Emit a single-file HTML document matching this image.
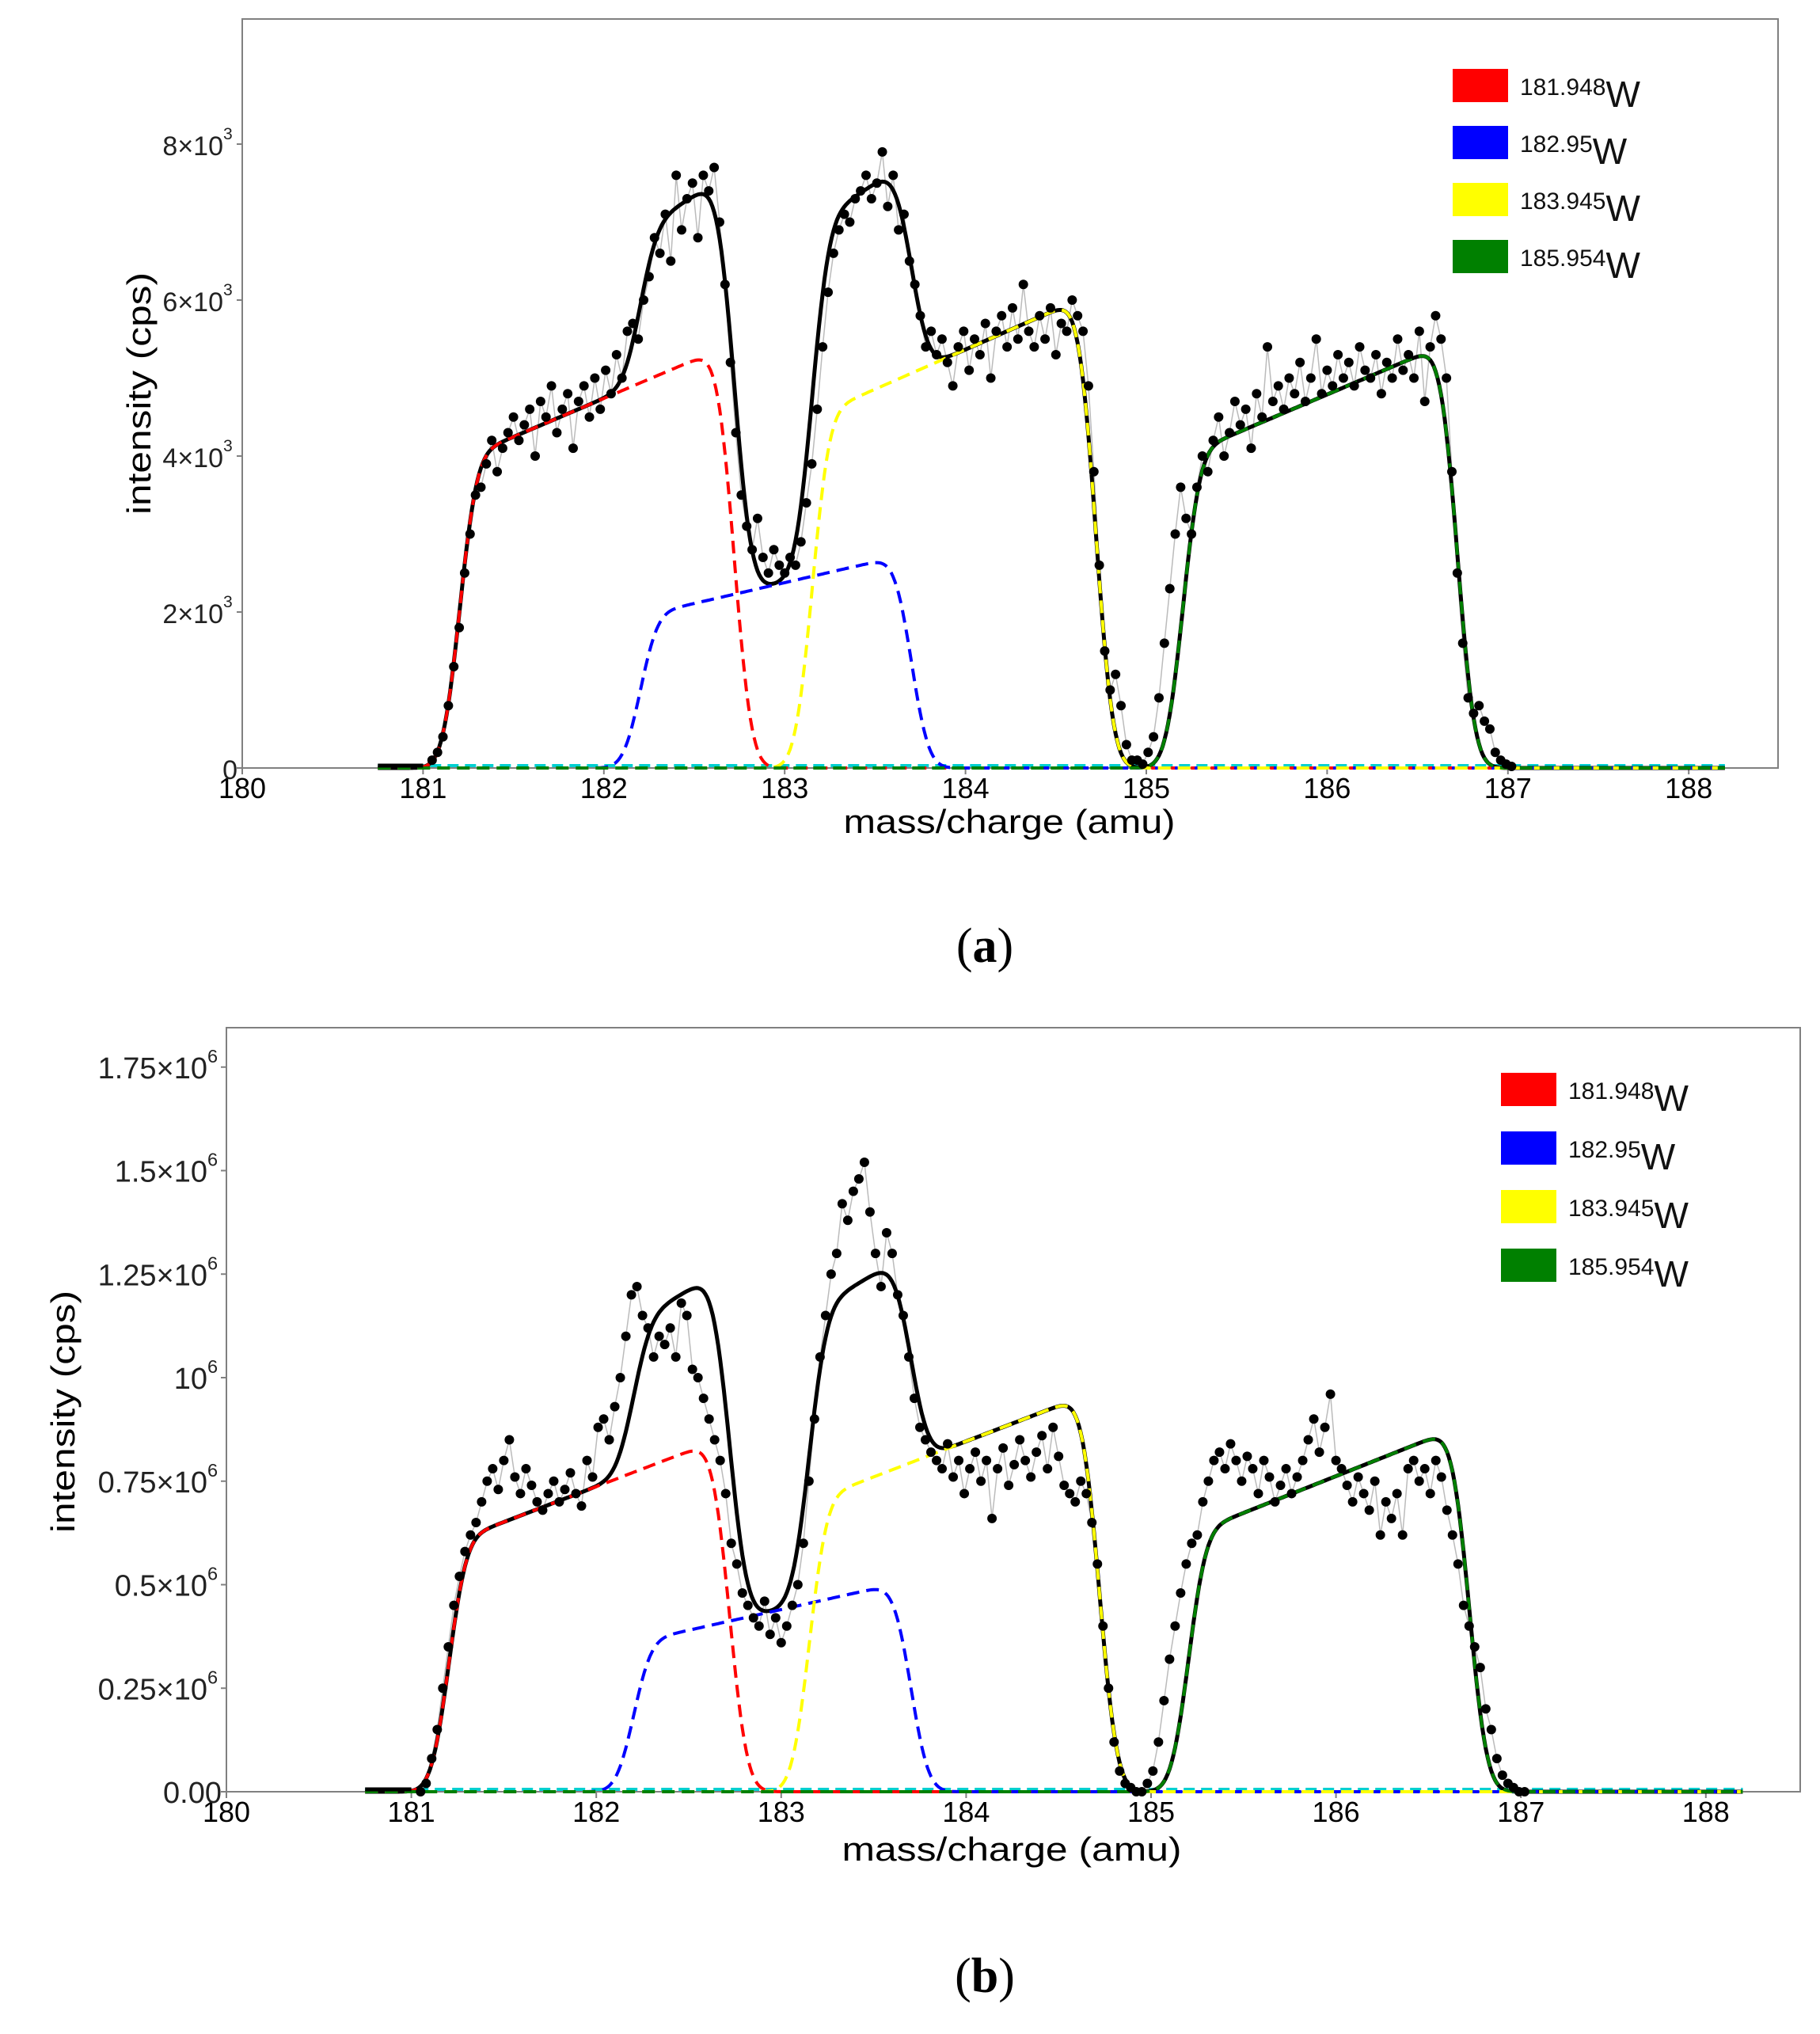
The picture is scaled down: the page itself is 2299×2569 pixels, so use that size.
<!DOCTYPE html>
<html><head><meta charset="utf-8"><style>
html,body{margin:0;padding:0;background:#fff}
svg{display:block}
</style></head><body>
<svg id="fig" width="2299" height="2569" viewBox="0 0 2299 2569" xmlns="http://www.w3.org/2000/svg" font-family="'Liberation Sans', sans-serif"></svg>
<script>
// ---- shared data ----
const massStart = 181.05;
const massStep = 0.03;
// Panel (a) measured intensities (units of 1e3 cps)
const dataA = [
0.1,0.2,0.4,0.8,1.3,1.8,2.5,3.0,3.5,3.6,
3.9,4.2,3.8,4.1,4.3,4.5,4.2,4.4,4.6,4.0,
4.7,4.5,4.9,4.3,4.6,4.8,4.1,4.7,4.9,4.5,
5.0,4.6,5.1,4.8,5.3,5.0,5.6,5.7,5.5,6.0,
6.3,6.8,6.6,7.1,6.5,7.6,6.9,7.3,7.5,6.8,
7.6,7.4,7.7,7.0,6.2,5.2,4.3,3.5,3.1,2.8,
3.2,2.7,2.5,2.8,2.6,2.5,2.7,2.6,2.9,3.4,
3.9,4.6,5.4,6.1,6.6,6.9,7.1,7.0,7.3,7.4,
7.6,7.3,7.5,7.9,7.2,7.6,6.9,7.1,6.5,6.2,
5.8,5.4,5.6,5.3,5.5,5.2,4.9,5.4,5.6,5.1,
5.5,5.3,5.7,5.0,5.6,5.8,5.4,5.9,5.5,6.2,
5.6,5.4,5.8,5.5,5.9,5.3,5.7,5.6,6.0,5.8,
5.6,4.9,3.8,2.6,1.5,1.0,1.2,0.8,0.3,0.1,
0.1,0.05,0.2,0.4,0.9,1.6,2.3,3.0,3.6,3.2,
3.0,3.6,4.0,3.8,4.2,4.5,4.0,4.3,4.7,4.4,
4.6,4.1,4.8,4.5,5.4,4.7,4.9,4.6,5.0,4.8,
5.2,4.7,5.0,5.5,4.8,5.1,4.9,5.3,5.0,5.2,
4.9,5.4,5.1,5.0,5.3,4.8,5.2,5.0,5.5,5.1,
5.3,5.0,5.6,4.7,5.4,5.8,5.5,5.0,3.8,2.5,
1.6,0.9,0.7,0.8,0.6,0.5,0.2,0.1,0.05,0.02];
// Panel (b) measured intensities (units of 1e6 cps)
const dataB = [
0.0,0.02,0.08,0.15,0.25,0.35,0.45,0.52,0.58,0.62,
0.65,0.70,0.75,0.78,0.73,0.80,0.85,0.76,0.72,0.78,
0.74,0.70,0.68,0.72,0.75,0.70,0.73,0.77,0.72,0.69,
0.80,0.76,0.88,0.90,0.85,0.93,1.00,1.10,1.20,1.22,
1.15,1.12,1.05,1.10,1.08,1.12,1.05,1.18,1.15,1.02,
1.00,0.95,0.90,0.85,0.80,0.72,0.60,0.55,0.48,0.45,
0.42,0.40,0.46,0.38,0.42,0.36,0.40,0.45,0.50,0.60,
0.75,0.90,1.05,1.15,1.25,1.30,1.42,1.38,1.45,1.48,
1.52,1.40,1.30,1.22,1.35,1.30,1.20,1.15,1.05,0.95,
0.88,0.85,0.82,0.80,0.78,0.84,0.76,0.80,0.72,0.78,
0.82,0.75,0.80,0.66,0.78,0.83,0.74,0.79,0.85,0.80,
0.76,0.82,0.86,0.78,0.88,0.81,0.74,0.72,0.70,0.75,
0.72,0.65,0.55,0.40,0.25,0.12,0.05,0.02,0.01,0.0,
0.0,0.02,0.05,0.12,0.22,0.32,0.40,0.48,0.55,0.60,
0.62,0.70,0.75,0.80,0.82,0.78,0.84,0.80,0.75,0.81,
0.78,0.72,0.80,0.76,0.70,0.74,0.78,0.72,0.76,0.80,
0.85,0.90,0.82,0.88,0.96,0.80,0.78,0.74,0.70,0.76,
0.72,0.68,0.75,0.62,0.70,0.66,0.72,0.62,0.78,0.80,
0.75,0.78,0.72,0.80,0.76,0.68,0.62,0.55,0.45,0.40,
0.35,0.30,0.20,0.15,0.08,0.04,0.02,0.01,0.0,0.0];
// Fit components
const compNames = ["181.948","182.95","183.945","185.954"];
const compColors = ["#ff0000","#0000ff","#ffff00","#008000"];
const compStart = [181.2,182.2,183.15,185.2];
const compEnd = [182.72,183.7,184.72,186.72];
const compLowA = [3.95,1.95,4.5,4.0];
const compHighA = [5.45,2.75,6.1,5.5];
const compLowB = [0.6,0.36,0.7,0.62];
const compHighB = [0.86,0.51,0.97,0.89];
const xTicks = [180,181,182,183,184,185,186,187,188];
const yTicksA = [0,2,4,6,8];
const yTickLabelsA = [["0",""],["2×10","3"],["4×10","3"],["6×10","3"],["8×10","3"]];
const yTicksB = [0,0.25,0.5,0.75,1,1.25,1.5,1.75];
const yTickLabelsB = [["0.00",""],["0.25×10","6"],["0.5×10","6"],["0.75×10","6"],["10","6"],["1.25×10","6"],["1.5×10","6"],["1.75×10","6"]];

const NS="http://www.w3.org/2000/svg";
const svg=document.getElementById('fig');
function mk(tag,attrs,parent){const e=document.createElementNS(NS,tag);for(const k in attrs)e.setAttribute(k,attrs[k]);(parent||svg).appendChild(e);return e;}
function erf(x){const s=x<0?-1:1;x=Math.abs(x);const t=1/(1+0.3275911*x);const y=1-(((((1.061405429*t-1.453152027)*t)+1.421413741)*t-0.284496736)*t+0.254829592)*t*Math.exp(-x*x);return s*y;}
function Phi(z){return 0.5*(1+erf(z/Math.SQRT2));}
function comp(x,s,e,lo,hi){const w=0.075;const lin=lo+(hi-lo)*(x-s)/(e-s);return lin*Phi((x-s)/w)*(1-Phi((x-e)/w));}

function drawPanel(P){
  const g=mk('g',{});
  
  
  const X=v=>P.left+(v-180)*P.pxPerAmu;
  const Y=v=>P.bottom-v*P.pxPerUnit;
  const fr=mk('rect',{x:P.left,y:P.top,width:P.right-P.left,height:P.bottom-P.top,fill:'none',stroke:'#808080','stroke-width':2},g);
  
  
  xTicks.forEach(t=>{
    const tk=mk('line',{x1:X(t),x2:X(t),y1:P.bottom,y2:P.bottom+8,stroke:'#808080','stroke-width':2},g);
    
    
    const tl=mk('text',{x:X(t),y:P.bottom+38,'font-size':36,'text-anchor':'middle',fill:'#000'},g);
    tl.textContent=String(t);
    
    
  });
  P.yTicks.forEach((t,i)=>{
    const tk=mk('line',{x1:P.left-7,x2:P.left,y1:Y(t),y2:Y(t),stroke:'#808080','stroke-width':2},g);
    
    
    const lab=P.yLabels[i];
    const tl=mk('text',{x:P.left-(lab[1]?24:6),y:Y(t)+14,'font-size':P.yFont,'text-anchor':'end',fill:'#222'},g);
    tl.textContent=lab[0];
    
    
    if(lab[1]){
      const sp=mk('text',{x:P.left-24,y:Y(t)-6,'font-size':P.yFont*0.62,'text-anchor':'start',fill:'#222'},g);
      sp.textContent=lab[1];
      
      
    }
  });
  const xt=mk('text',{x:P.xTitleX,y:P.xTitleY,'font-size':42,'text-anchor':'middle',textLength:P.xTitleLen,lengthAdjust:'spacingAndGlyphs',fill:'#000'},g);
  xt.textContent='mass/charge (amu)';
  
  
  const yt=mk('text',{x:0,y:0,'font-size':42,'text-anchor':'middle',textLength:306,lengthAdjust:'spacingAndGlyphs',fill:'#000',transform:`translate(${P.yTitleX},${P.yTitleY}) rotate(-90)`},g);
  yt.textContent='intensity (cps)';
  
  
  let d='';
  P.data.forEach((v,i)=>{const m=massStart+i*massStep;d+=(i?'L':'M')+X(m).toFixed(1)+','+Y(v).toFixed(1);});
  const dl=mk('path',{d:d,fill:'none',stroke:'#bbbbbb','stroke-width':1.5},g);
  
  
  const xs=[];for(let m=180.75;m<=188.2001;m+=0.01)xs.push(m);
  const baseLine=mk('line',{x1:X(180.75),x2:X(188.2),y1:Y(0)-3,y2:Y(0)-3,stroke:'#00d0d0','stroke-width':4,'stroke-dasharray':'14 8'},g);
  
  
  let ft='';
  xs.forEach((m,i)=>{let s=0;for(let k=0;k<4;k++)s+=comp(m,compStart[k],compEnd[k],P.low[k],P.high[k]);ft+=(i?'L':'M')+X(m).toFixed(1)+','+Y(s).toFixed(1);});
  const fit=mk('path',{d:ft,fill:'none',stroke:'#000','stroke-width':5,'stroke-linejoin':'round'},g);
  
  
  for(let k=0;k<4;k++){
    let cd='';
    xs.forEach((m,i)=>{const v=comp(m,compStart[k],compEnd[k],P.low[k],P.high[k]);cd+=(i?'L':'M')+X(m).toFixed(1)+','+Y(v).toFixed(1);});
    const c=mk('path',{d:cd,fill:'none',stroke:compColors[k],'stroke-width':4,'stroke-dasharray':'16 9'},g);
    
    
  }
  P.data.forEach((v,i)=>{
    const m=massStart+i*massStep;
    const c=mk('circle',{cx:X(m),cy:Y(v),r:6,fill:'#000'},g);
    
    
  });
  const tail=mk('line',{x1:X(180.75),x2:X(181.0),y1:Y(0)-3,y2:Y(0)-3,stroke:'#000','stroke-width':5},g);
  
  
  for(let k=0;k<4;k++){
    const y0=P.legTop+k*P.legGap;
    const lg=mk('g',{},g);
    
    
    mk('rect',{x:P.legX,y:y0,width:70,height:42,fill:compColors[k]},lg);
    const t1=mk('text',{x:P.legX+85,y:y0+33,'font-size':30,fill:'#111'},lg);
    t1.textContent=compNames[k];
    const t2=mk('tspan',{'font-size':46,dy:15},t1);
    t2.textContent='W';
  }
  const pl=mk('text',{x:P.capX,y:P.capY,'font-size':62,'text-anchor':'middle','font-family':"'Liberation Serif', serif",fill:'#000'},g);
  pl.innerHTML='(<tspan font-weight="bold">'+P.cap+'</tspan>)';
  
  
}

drawPanel({name:'panel-a',left:306,right:2246,top:24,bottom:970,pxPerAmu:228.4,pxPerUnit:98.5,
  data:dataA,low:compLowA,high:compHighA,yTicks:yTicksA,yLabels:yTickLabelsA,yFont:34,
  xTitleX:1275,xTitleY:1052,xTitleLen:419,yTitleX:190,yTitleY:497,
  legX:1835,legTop:87,legGap:72,cap:'a',capX:1244,capY:1215});
drawPanel({name:'panel-b',left:286,right:2274,top:1298,bottom:2263,pxPerAmu:233.6,pxPerUnit:523,
  data:dataB,low:compLowB,high:compHighB,yTicks:yTicksB,yLabels:yTickLabelsB,yFont:38,
  xTitleX:1278,xTitleY:2350,xTitleLen:429,yTitleX:94,yTitleY:1783,
  legX:1896,legTop:1355,legGap:74,cap:'b',capX:1244,capY:2516});
</script>
</body></html>
